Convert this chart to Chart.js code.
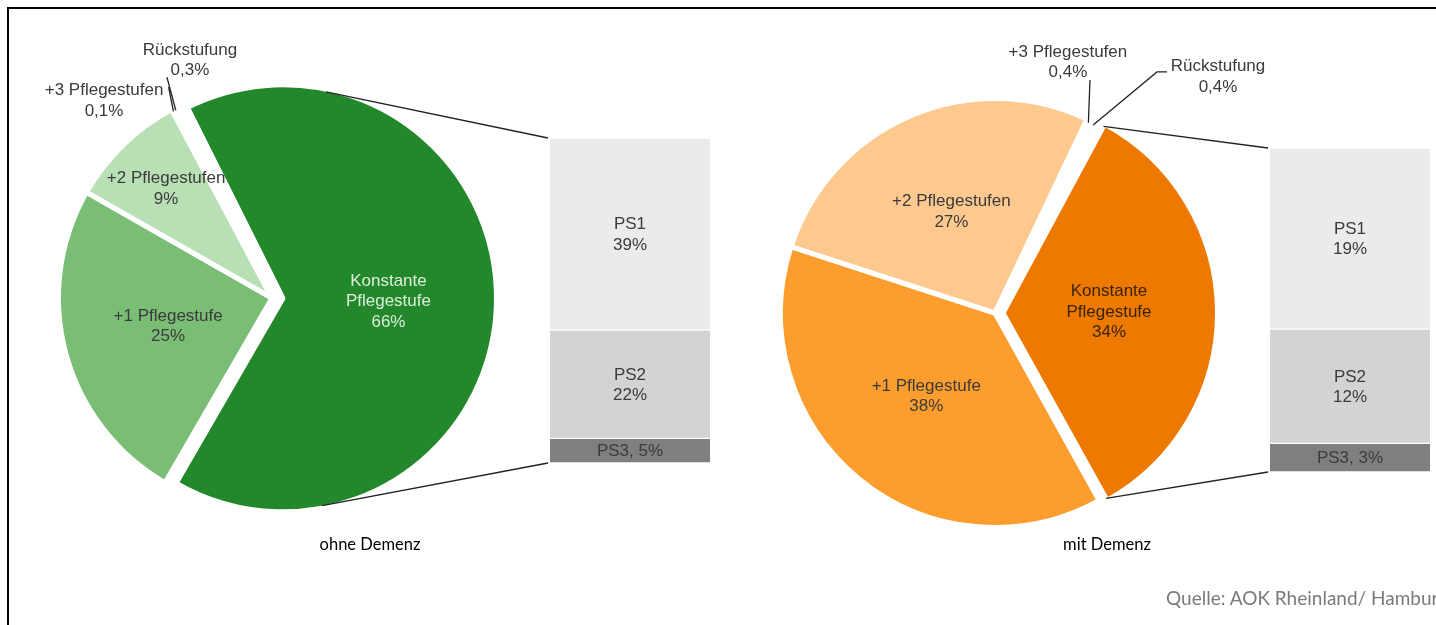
<!DOCTYPE html>
<html>
<head>
<meta charset="utf-8">
<script src="https://cdn.jsdelivr.net/npm/chart.js@4.4.0/dist/chart.umd.min.js"></script>
<style>
  html, body { margin: 0; padding: 0; background: #fff; }
  body { width: 1436px; height: 625px; overflow: hidden; position: relative; }
  canvas { position: absolute; }
  #frame { position: absolute; left: 7px; top: 7px; width: 1500px; height: 700px;
           border-left: 2px solid #000; border-top: 2px solid #000; }
  .cap { position: absolute; width: 240px; text-align: center; font-family: Lato, 'Open Sans', sans-serif;
         font-size: 16.5px; color: #000; line-height: 20px; }
  #source { position: absolute; left: 1166px; top: 586px; white-space: nowrap;
            font-family: Lato, 'Open Sans', sans-serif; font-size: 19px; color: #7a7a7a; line-height: 24px; }
</style>
</head>
<body>
<div id="frame"></div>
<canvas id="pieL" width="500" height="480" style="left:22px;top:58px"></canvas>
<canvas id="barL" width="160" height="325" style="left:550px;top:138px"></canvas>
<canvas id="pieR" width="500" height="480" style="left:745px;top:73px"></canvas>
<canvas id="barR" width="160" height="324" style="left:1270px;top:148px"></canvas>
<canvas id="overlay" width="1436" height="625" style="left:0;top:0;pointer-events:none"></canvas>
<div class="cap" id="capL" style="left:250px;top:534px"></div>
<div class="cap" id="capR" style="left:987px;top:534px"></div>
<div id="source"></div>

<script>
// ---------------- DATA ----------------
const pieCategories = [['Konstante', 'Pflegestufe'], ['+1 Pflegestufe'], ['+2 Pflegestufen'], ['+3 Pflegestufen'], ['Rückstufung']];
const pieValuesOhne = [66, 25, 9, 0.1, 0.3];
const pieValuesMit  = [34, 38, 27, 0.4, 0.4];
const barCategories = ['PS1', 'PS2', 'PS3'];
const barValuesOhne = [39, 22, 5];
const barValuesMit  = [19, 12, 3];
const chartTitles = ['ohne Demenz', 'mit Demenz'];
const sourceText = 'Quelle: AOK Rheinland/ Hamburg';

// ---------------- STYLE ----------------
const greenColors  = ['#23882b', '#7abd74', '#b9e0b5', '#b9e0b5', '#b9e0b5'];
const orangeColors = ['#ee7900', '#fd9d2e', '#fec98e', '#fec98e', '#fec98e'];
const barColors = ['#ebebeb', '#d3d3d3', '#7f7f7f'];
const PIE_BORDER = 5;
const TEXT_FONT = '17px "Liberation Sans", Arial, sans-serif';
const LINE_H = 20.5;
const fmt = v => String(v).replace('.', ',') + '%';
const sum = a => a.reduce((s, v) => s + v, 0);

document.getElementById('capL').textContent = chartTitles[0];
document.getElementById('capR').textContent = chartTitles[1];
document.getElementById('source').textContent = sourceText;

const explodePlugin = {
  id: 'explode',
  beforeDatasetDraw(chart, args, opts) {
    const ctx = chart.ctx;
    args.meta.data.forEach((arc, i) => {
      ctx.save();
      if (i === opts.index) {
        const mid = (arc.startAngle + arc.endAngle) / 2;
        ctx.translate(Math.cos(mid) * opts.distance, Math.sin(mid) * opts.distance);
      }
      arc.draw(ctx, chart.chartArea);
      ctx.restore();
    });
    return false;
  }
};

function makePie(id, values, colors, rotation, radius, explode) {
  return new Chart(document.getElementById(id), {
    type: 'pie',
    data: {
      labels: pieCategories.map(c => c.join(' ')),
      datasets: [{ data: values, backgroundColor: colors, borderColor: '#ffffff',
                   borderWidth: PIE_BORDER, radius: radius, rotation: rotation }]
    },
    options: {
      responsive: false, animation: false, events: [],
      rotation: rotation, radius: radius,
      layout: { padding: 0 },
      plugins: { legend: { display: false }, tooltip: { enabled: false },
                 explode: { index: 0, distance: explode } }
    },
    plugins: [explodePlugin]
  });
}

function makeBar(id, values) {
  const datasets = values.map((v, i) => ({
    label: barCategories[i], data: [v], backgroundColor: barColors[i],
    borderColor: '#ffffff', borderWidth: { top: 1, bottom: 1, left: 0, right: 0 },
    borderSkipped: false, barPercentage: 1, categoryPercentage: 1
  })).reverse();
  return new Chart(document.getElementById(id), {
    type: 'bar',
    data: { labels: [''], datasets },
    options: {
      responsive: false, animation: false, events: [],
      layout: { padding: 0 },
      plugins: { legend: { display: false }, tooltip: { enabled: false } },
      scales: {
        x: { display: false, stacked: true },
        y: { display: false, stacked: true, min: 0, max: sum(values) }
      }
    }
  });
}

const pieL = makePie('pieL', pieValuesOhne, greenColors, -26.6, 213.5, 11);
const barL = makeBar('barL', barValuesOhne);
const pieR = makePie('pieR', pieValuesMit, orangeColors, 28.3, 214.5, 8);
const barR = makeBar('barR', barValuesMit);

// ---------------- ANNOTATIONS ----------------
const ctx = document.getElementById('overlay').getContext('2d');

function drawLines(lines, x, y, color) {
  ctx.save();
  ctx.font = TEXT_FONT;
  ctx.fillStyle = color;
  ctx.textAlign = 'center';
  ctx.textBaseline = 'middle';
  const y0 = y - (lines.length - 1) * LINE_H / 2;
  lines.forEach((t, k) => ctx.fillText(t, x, y0 + k * LINE_H));
  ctx.restore();
}

function pieGeom(pie, i, explode) {
  const arc = pie.getDatasetMeta(0).data[i];
  const mid = (arc.startAngle + arc.endAngle) / 2;
  const r = arc.outerRadius - PIE_BORDER / 2;
  let cx = arc.x + pie.canvas.offsetLeft, cy = arc.y + pie.canvas.offsetTop;
  const bx = cx, by = cy;
  if (i === 0) { cx += Math.cos(mid) * explode; cy += Math.sin(mid) * explode; }
  return { arc, mid, r, cx, cy, bx, by };
}

function drawPieAnnotations(pie, values, cfg) {
  values.forEach((v, i) => {
    const g = pieGeom(pie, i, cfg.explode);
    const lines = [...pieCategories[i], fmt(v)];
    if (cfg.inside[i] !== undefined) {
      const f = cfg.inside[i];
      drawLines(lines, g.cx + Math.cos(g.mid) * f * g.r, g.cy + Math.sin(g.mid) * f * g.r,
                cfg.textColors[i] || '#3b3b3b');
    } else {
      const ext = cfg.outside[i];
      drawLines(lines, g.bx + ext.text[0] * g.r, g.by + ext.text[1] * g.r, '#3b3b3b');
      ctx.save();
      ctx.strokeStyle = '#222'; ctx.lineWidth = 1.3;
      ctx.beginPath();
      ctx.moveTo(g.bx + Math.cos(g.mid) * g.r, g.by + Math.sin(g.mid) * g.r);
      ext.path.forEach(p => ctx.lineTo(g.bx + p[0] * g.r, g.by + p[1] * g.r));
      ctx.stroke();
      ctx.restore();
    }
  });
}

function drawBarAnnotations(bar, values) {
  bar.data.datasets.forEach((ds, di) => {
    const el = bar.getDatasetMeta(di).data[0];
    const idx = barCategories.indexOf(ds.label);
    const x = el.x + bar.canvas.offsetLeft;
    const y = (el.y + el.base) / 2 + bar.canvas.offsetTop;
    const h = Math.abs(el.base - el.y);
    const lines = h > 50 ? [ds.label, fmt(values[idx])] : [ds.label + ', ' + fmt(values[idx])];
    drawLines(lines, x, y + 1, '#3b3b3b');
  });
}

function drawConnectors(pie, bar, explode) {
  const g = pieGeom(pie, 0, explode);
  let top = Infinity, bottom = -Infinity, left = 0;
  bar.data.datasets.forEach((ds, di) => {
    const el = bar.getDatasetMeta(di).data[0];
    top = Math.min(top, el.y); bottom = Math.max(bottom, el.base);
    left = el.x - el.width / 2;
  });
  left += bar.canvas.offsetLeft - 2;
  top += bar.canvas.offsetTop; bottom += bar.canvas.offsetTop;
  const TAU = Math.PI * 2;
  const start = g.arc.startAngle, end = g.arc.endAngle;
  function touch(P, sign, fallback) {
    const dx = P[0] - g.cx, dy = P[1] - g.cy;
    const d = Math.hypot(dx, dy);
    const phi = Math.atan2(dy, dx);
    const th = phi + sign * Math.acos(Math.min(1, g.r / d));
    const rel = (((th - start) % TAU) + TAU) % TAU;
    const ang = rel <= end - start ? th : fallback;
    return [g.cx + Math.cos(ang) * g.r, g.cy + Math.sin(ang) * g.r];
  }
  const t1 = touch([left, top], -1, start);
  const t2 = touch([left, bottom], 1, end);
  ctx.save();
  ctx.strokeStyle = '#222'; ctx.lineWidth = 1.3;
  ctx.beginPath(); ctx.moveTo(t1[0], t1[1]); ctx.lineTo(left, top); ctx.stroke();
  ctx.beginPath(); ctx.moveTo(t2[0], t2[1]); ctx.lineTo(left, bottom); ctx.stroke();
  ctx.restore();
}

drawConnectors(pieL, barL, 11);
drawConnectors(pieR, barR, 8);

drawPieAnnotations(pieL, pieValuesOhne, {
  explode: 11,
  inside: { 0: 0.5, 1: 0.51, 2: 0.72 },
  textColors: { 0: '#dcefd8' },
  outside: {
    3: { text: [-0.796, -0.934], path: [[-0.49, -1.0]] },
    4: { text: [-0.389, -1.126], path: [[-0.498, -1.047]] }
  }
});
drawPieAnnotations(pieR, pieValuesMit, {
  explode: 8,
  inside: { 0: 0.5, 1: 0.51, 2: 0.52 },
  textColors: { 0: '#3a2400' },
  outside: {
    3: { text: [0.344, -1.182], path: [[0.448, -1.099]] },
    4: { text: [1.052, -1.113], path: [[0.764, -1.137], [0.811, -1.137]] }
  }
});
drawBarAnnotations(barL, barValuesOhne);
drawBarAnnotations(barR, barValuesMit);
</script>
</body>
</html>
